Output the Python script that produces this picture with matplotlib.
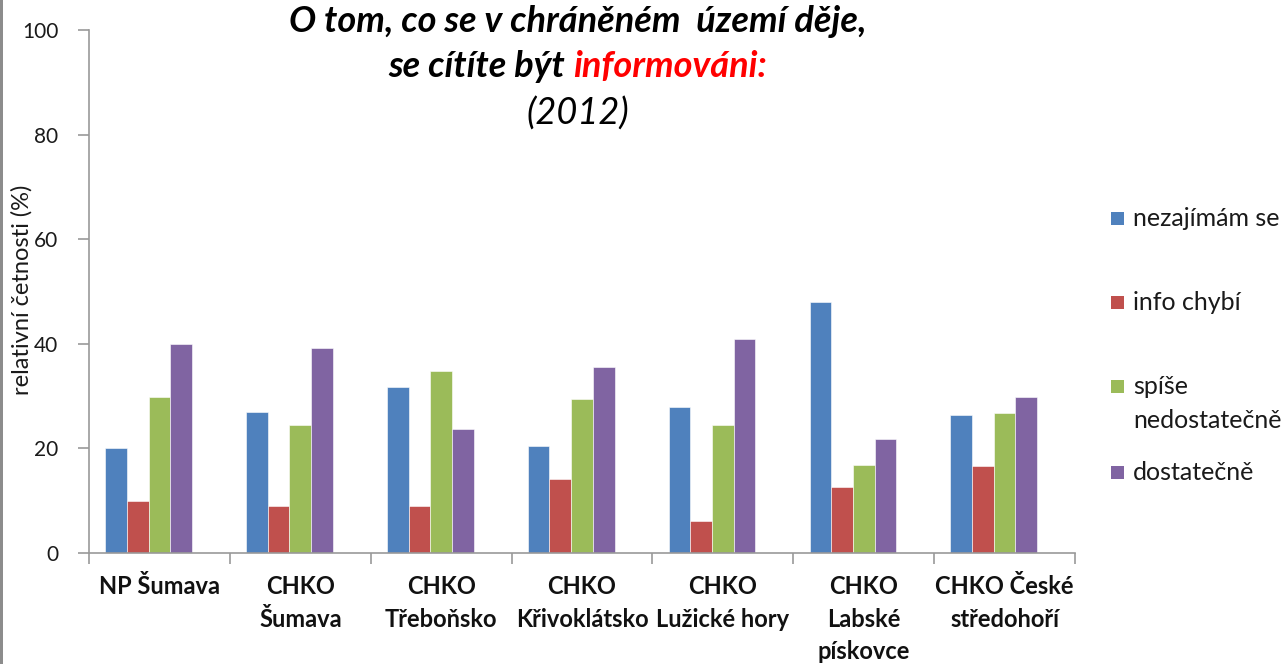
import matplotlib
matplotlib.use("Agg")
import matplotlib.pyplot as plt
from matplotlib.patches import Rectangle
import numpy as np

plt.rcParams['font.family'] = ['Lato', 'DejaVu Sans']

categories = ["NP Šumava", "CHKO\nŠumava", "CHKO\nTřeboňsko", "CHKO\nKřivoklátsko",
              "CHKO\nLužické hory", "CHKO\nLabské\npískovce", "CHKO České\nstředohoří"]
series_names = ["nezajímám se", "info chybí", "spíše\nnedostatečně", "dostatečně"]
nezajimam = [20.0, 27.0, 31.8, 20.4, 27.9, 48.0, 26.4]
info_chybi = [9.9, 8.9, 8.9, 14.2, 6.2, 12.7, 16.7]
spise_nedost = [29.9, 24.5, 34.8, 29.4, 24.5, 16.9, 26.8]
dostatecne = [40.0, 39.2, 23.8, 35.5, 41.0, 21.8, 29.9]
yticks = [0, 20, 40, 60, 80, 100]

series = [nezajimam, info_chybi, spise_nedost, dostatecne]
colors = ["#4F81BD", "#C0504D", "#9BBB59", "#8064A2"]

W, H = 1284, 664
fig = plt.figure(figsize=(W / 100, H / 100), dpi=100)
ax = fig.add_axes([89 / W, 1 - 553 / H, (1075 - 89) / W, (553 - 30) / H])

x = np.arange(len(categories))
nslots = 5
bw = 1.0 / (nslots + 1.5)
for j, (vals, c) in enumerate(zip(series, colors)):
    ax.bar(x + (j - (nslots - 1) / 2) * bw, vals, width=bw, color=c,
           edgecolor="white", linewidth=0.4, align="center", zorder=2)

ax.set_xlim(-0.5, len(categories) - 0.5)
ax.set_ylim(0, 100)
ax.set_yticks(yticks)
ax.set_yticklabels([str(t) for t in yticks], fontsize=15, color="#1a1a1a")
ax.set_xticks(np.arange(len(categories) + 1) - 0.5)
ax.set_xticklabels([])
ax.set_xticks(x, minor=True)
ax.set_xticklabels(categories, minor=True, fontsize=17, fontweight="bold",
                   linespacing=1.5, va="top", color="#111111")
ax.tick_params(axis="x", which="minor", length=0, pad=16)
ax.tick_params(axis="x", which="major", length=8, color="#999999", width=1.2)
ax.tick_params(axis="y", length=8, color="#999999", width=1.2, pad=14)
for s in ["top", "right"]:
    ax.spines[s].set_visible(False)
for s in ["left", "bottom"]:
    ax.spines[s].set_color("#999999")
    ax.spines[s].set_linewidth(1.2)

fig.text(22 / W, 1 - 290 / H, "relativní četnosti (%)", rotation=90,
         ha="center", va="center", fontsize=17, color="#1a1a1a")

# Title
TS = 26
tcx = 578 / W
fig.text(tcx, 1 - 32 / H, "O tom, co se v chráněném  území děje,", ha="center",
         va="baseline", fontsize=TS, fontweight="bold", fontstyle="italic")
renderer = fig.canvas.get_renderer()
p1 = "se cítíte být "
p2 = "informováni:"
t_full = fig.text(0, 0, p1 + p2, fontsize=TS, fontweight="bold", fontstyle="italic")
full_w = t_full.get_window_extent(renderer).width
t_full.remove()
t_a = fig.text(0, 0, p1, fontsize=TS, fontweight="bold", fontstyle="italic")
a_w = t_a.get_window_extent(renderer).width
t_a.remove()
x0 = tcx * W - full_w / 2
fig.text(x0 / W, 1 - 77 / H, p1, ha="left", va="baseline", fontsize=TS,
         fontweight="bold", fontstyle="italic")
fig.text((x0 + a_w) / W, 1 - 77 / H, p2, ha="left", va="baseline", fontsize=TS,
         fontweight="bold", fontstyle="italic", color="#FF0000")
fig.text(tcx, 1 - 125 / H, "(2012)", ha="center", va="baseline", fontsize=TS,
         fontstyle="italic")

# Legend (manual)
leg_y = [218, 302, 386, 472]
for name, c, yy in zip(series_names, colors, leg_y):
    fig.patches.append(Rectangle((1111 / W, 1 - (yy + 6.5) / H), 13 / W, 13 / H,
                                 transform=fig.transFigure, facecolor=c,
                                 edgecolor="none"))
    for k, line in enumerate(name.split("\n")):
        fig.text(1133 / W, 1 - (yy + 34 * k) / H, line, ha="left", va="center",
                 fontsize=18, color="#1a1a1a")

# left border line
fig.patches.append(Rectangle((0, 0), 3 / W, 1, transform=fig.transFigure,
                             facecolor="#8c8c8c", edgecolor="none"))

fig.savefig("out.png", dpi=100)
